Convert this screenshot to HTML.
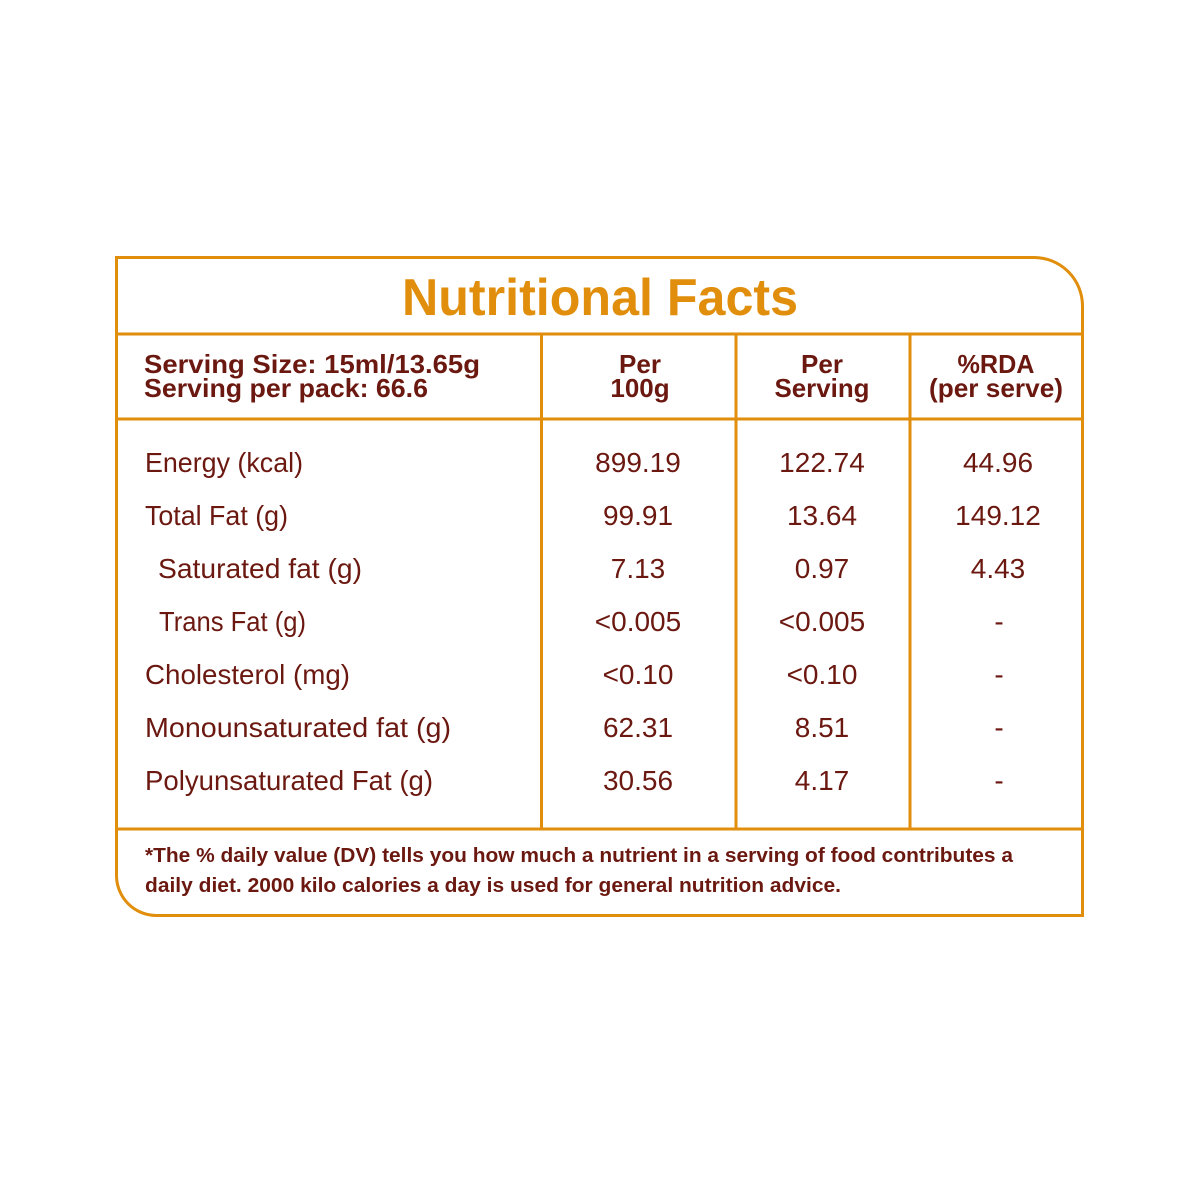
<!DOCTYPE html>
<html>
<head>
<meta charset="utf-8">
<style>
  html, body { margin: 0; padding: 0; background: #ffffff; }
  svg { display: block; }
  text { font-family: "Liberation Sans", "DejaVu Sans", sans-serif; fill: #6b1810; }
  .b { font-weight: bold; }
</style>
</head>
<body>
<svg width="1200" height="1200" viewBox="0 0 1200 1200" xmlns="http://www.w3.org/2000/svg">
  <rect width="1200" height="1200" fill="#ffffff"/>
  <g fill="none" stroke="#e08e0b" stroke-width="3">
    <path d="M116.5 257.5 H1034 A48.5 48.5 0 0 1 1082.5 306 V915.5 H156.5 A40 40 0 0 1 116.5 875.5 Z"/>
    <line x1="116.5" y1="334" x2="1082.5" y2="334"/>
    <line x1="116.5" y1="419" x2="1082.5" y2="419"/>
    <line x1="116.5" y1="829" x2="1082.5" y2="829"/>
    <line x1="541.5" y1="334" x2="541.5" y2="829"/>
    <line x1="736" y1="334" x2="736" y2="829"/>
    <line x1="910" y1="334" x2="910" y2="829"/>
  </g>

  <text x="402" y="315" class="b" font-size="52" textLength="396" lengthAdjust="spacingAndGlyphs" style="fill:#e08e0b">Nutritional Facts</text>

  <text x="144" y="373" class="b" font-size="26" textLength="336" lengthAdjust="spacingAndGlyphs">Serving Size: 15ml/13.65g</text>
  <text x="144" y="397" class="b" font-size="26" textLength="284" lengthAdjust="spacingAndGlyphs">Serving per pack: 66.6</text>

  <text x="640" y="373" class="b" font-size="26" text-anchor="middle">Per</text>
  <text x="640" y="397" class="b" font-size="26" text-anchor="middle">100g</text>
  <text x="822" y="373" class="b" font-size="26" text-anchor="middle">Per</text>
  <text x="822" y="397" class="b" font-size="26" text-anchor="middle" textLength="95" lengthAdjust="spacingAndGlyphs">Serving</text>
  <text x="996" y="373" class="b" font-size="26" text-anchor="middle" textLength="77" lengthAdjust="spacingAndGlyphs">%RDA</text>
  <text x="996" y="397" class="b" font-size="26" text-anchor="middle" textLength="134" lengthAdjust="spacingAndGlyphs">(per serve)</text>

  <g font-size="28">
    <text x="145" y="472" textLength="158" lengthAdjust="spacingAndGlyphs">Energy (kcal)</text>
    <text x="145" y="525" textLength="143" lengthAdjust="spacingAndGlyphs">Total Fat (g)</text>
    <text x="158" y="578" textLength="204" lengthAdjust="spacingAndGlyphs">Saturated fat (g)</text>
    <text x="159" y="631" textLength="147" lengthAdjust="spacingAndGlyphs">Trans Fat (g)</text>
    <text x="145" y="684" textLength="205" lengthAdjust="spacingAndGlyphs">Cholesterol (mg)</text>
    <text x="145" y="737" textLength="306" lengthAdjust="spacingAndGlyphs">Monounsaturated fat (g)</text>
    <text x="145" y="790" textLength="288" lengthAdjust="spacingAndGlyphs">Polyunsaturated Fat (g)</text>

    <g text-anchor="middle">
      <text x="638" y="472">899.19</text>
      <text x="638" y="525">99.91</text>
      <text x="638" y="578">7.13</text>
      <text x="638" y="631">&lt;0.005</text>
      <text x="638" y="684">&lt;0.10</text>
      <text x="638" y="737">62.31</text>
      <text x="638" y="790">30.56</text>

      <text x="822" y="472">122.74</text>
      <text x="822" y="525">13.64</text>
      <text x="822" y="578">0.97</text>
      <text x="822" y="631">&lt;0.005</text>
      <text x="822" y="684">&lt;0.10</text>
      <text x="822" y="737">8.51</text>
      <text x="822" y="790">4.17</text>

      <text x="998" y="472">44.96</text>
      <text x="998" y="525">149.12</text>
      <text x="998" y="578">4.43</text>
      <text x="999" y="631">-</text>
      <text x="999" y="684">-</text>
      <text x="999" y="737">-</text>
      <text x="999" y="790">-</text>
    </g>
  </g>

  <text x="145" y="862" class="b" font-size="20" textLength="868" lengthAdjust="spacingAndGlyphs">*The % daily value (DV) tells you how much a nutrient in a serving of food contributes a</text>
  <text x="145" y="892" class="b" font-size="20" textLength="696" lengthAdjust="spacingAndGlyphs">daily diet. 2000 kilo calories a day is used for general nutrition advice.</text>
</svg>
</body>
</html>
